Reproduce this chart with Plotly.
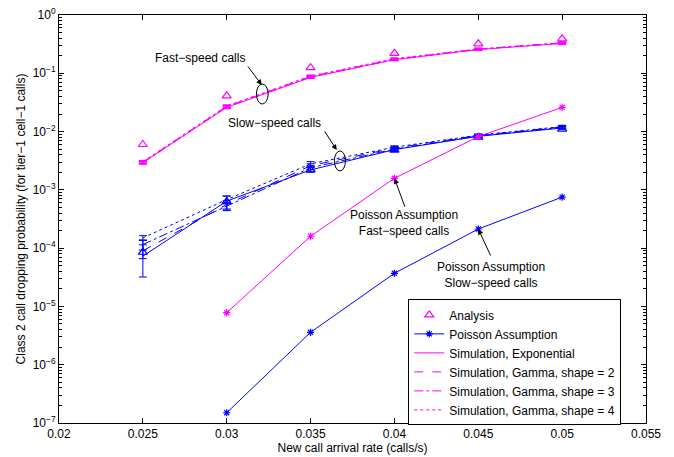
import math
import plotly.graph_objects as go

# New call arrival rate (calls/s)
rate = [0.025, 0.03, 0.035, 0.04, 0.045, 0.05]
rate_poisson = [0.03, 0.035, 0.04, 0.045, 0.05]

# Fast-speed calls: analysis and simulation
fast_analysis = [6.0e-3, 4.1e-2, 1.25e-1, 2.2e-1, 3.2e-1, 3.9e-1]
fast_sim_exp = [2.95e-3, 2.6e-2, 8.5e-2, 1.72e-1, 2.55e-1, 3.25e-1]
fast_sim_g2 = [3.0e-3, 2.7e-2, 8.8e-2, 1.75e-1, 2.6e-1, 3.3e-1]
fast_sim_g3 = [2.9e-3, 2.65e-2, 8.7e-2, 1.70e-1, 2.58e-1, 3.35e-1]
fast_sim_g4 = [3.05e-3, 2.75e-2, 9.0e-2, 1.78e-1, 2.62e-1, 3.3e-1]
fast_sim_err = [1.5e-4, 1.3e-3, 3.5e-3, 6.0e-3, 9.0e-3, 1.2e-2]

# Slow-speed calls: analysis and simulation
slow_analysis = [8.5e-5, 6.3e-4, 2.2e-3, 4.8e-3, 8.0e-3, 1.1e-2]
slow_sim_exp = [7.3e-5, 6.4e-4, 2.2e-3, 4.9e-3, 8.3e-3, 1.15e-2]
slow_sim_g2 = [9.0e-5, 5.6e-4, 2.6e-3, 5.2e-3, 8.6e-3, 1.2e-2]
slow_sim_g3 = [1.15e-4, 5.3e-4, 2.4e-3, 5.0e-3, 8.4e-3, 1.18e-2]
slow_sim_g4 = [1.5e-4, 6.8e-4, 2.8e-3, 5.4e-3, 8.7e-3, 1.22e-2]
slow_err_exp_plus = [6.4e-5, 1.45e-4, 2.5e-4, 4.0e-4, 5.0e-4, 7.0e-4]
slow_err_exp_minus = [4.1e-5, 2.0e-4, 2.0e-4, 3.5e-4, 4.5e-4, 6.0e-4]
slow_err_g2 = [2.4e-5, 9.0e-5, 2.0e-4, 3.0e-4, 4.0e-4, 6.0e-4]
slow_err_g3 = [2.2e-5, 8.0e-5, 2.0e-4, 3.0e-4, 4.0e-4, 6.0e-4]
slow_err_g4 = [1.4e-5, 1.0e-4, 2.5e-4, 3.0e-4, 4.0e-4, 6.0e-4]

# Poisson assumption
poisson_fast = [7.8e-6, 1.6e-4, 1.58e-3, 8.2e-3, 2.6e-2]
poisson_slow = [1.5e-7, 3.6e-6, 3.7e-5, 2.13e-4, 7.5e-4]

y_tick_exps = [-7, -6, -5, -4, -3, -2, -1, 0]
x_ticks = [0.02, 0.025, 0.03, 0.035, 0.04, 0.045, 0.05, 0.055]

MAGENTA = "#FF00FF"
BLUE = "#0000FF"
FONT = "Liberation Sans, Arial, sans-serif"

fig = go.Figure()


def sim_trace(x, y, color, dash, name, rank, show, plus, minus=None):
    err = dict(type="data", array=plus, visible=True, color=color,
               thickness=1, width=4)
    if minus is not None:
        err["arrayminus"] = minus
        err["symmetric"] = False
    return go.Scatter(x=x, y=y, mode="lines", name=name,
                      line=dict(color=color, width=1, dash=dash),
                      error_y=err, showlegend=show, legendrank=rank)


# Fast-speed simulation curves (these carry the legend entries)
fig.add_trace(sim_trace(rate, fast_sim_exp, MAGENTA, "solid",
                        "Simulation, Exponential", 3, True, fast_sim_err))
fig.add_trace(sim_trace(rate, fast_sim_g2, MAGENTA, "dash",
                        "Simulation, Gamma, shape = 2", 4, True, fast_sim_err))
fig.add_trace(sim_trace(rate, fast_sim_g3, MAGENTA, "dashdot",
                        "Simulation, Gamma, shape = 3", 5, True, fast_sim_err))
fig.add_trace(sim_trace(rate, fast_sim_g4, MAGENTA, "dot",
                        "Simulation, Gamma, shape = 4", 6, True, fast_sim_err))

# Slow-speed simulation curves
fig.add_trace(sim_trace(rate, slow_sim_exp, BLUE, "solid", "slow exp", 10, False,
                        slow_err_exp_plus, slow_err_exp_minus))
fig.add_trace(sim_trace(rate, slow_sim_g2, BLUE, "dash", "slow g2", 11, False,
                        slow_err_g2))
fig.add_trace(sim_trace(rate, slow_sim_g3, BLUE, "dashdot", "slow g3", 12, False,
                        slow_err_g3))
fig.add_trace(sim_trace(rate, slow_sim_g4, BLUE, "dot", "slow g4", 13, False,
                        slow_err_g4))

# Analytical results
fig.add_trace(go.Scatter(x=rate, y=fast_analysis, mode="markers", name="Analysis",
                         marker=dict(symbol="triangle-up-open", size=8, color=MAGENTA,
                                     line=dict(width=1.2)),
                         legendrank=1))
fig.add_trace(go.Scatter(x=rate, y=slow_analysis, mode="markers", name="slow analysis",
                         marker=dict(symbol="triangle-up-open", size=8, color=BLUE,
                                     line=dict(width=1.2)),
                         showlegend=False))

# Poisson assumption curves
fig.add_trace(go.Scatter(x=rate_poisson, y=poisson_fast, mode="lines+markers",
                         name="poisson fast", showlegend=False,
                         line=dict(color=MAGENTA, width=1),
                         marker=dict(symbol="asterisk-open", size=6, color=MAGENTA,
                                     line=dict(width=1.2, color=MAGENTA))))
fig.add_trace(go.Scatter(x=rate_poisson, y=poisson_slow, mode="lines+markers",
                         name="Poisson Assumption", legendrank=2,
                         line=dict(color=BLUE, width=1),
                         marker=dict(symbol="asterisk-open", size=6, color=BLUE,
                                     line=dict(width=1.2, color=BLUE))))

txt = dict(font=dict(family=FONT, size=12, color="black"), showarrow=False,
           xref="x", yref="y")
arrow = dict(text="", showarrow=True, arrowhead=2, arrowsize=1.1, arrowwidth=1,
             arrowcolor="black", axref="pixel", ayref="pixel", xref="x", yref="y")

annotations = [
    dict(x=0.02838, y=math.log10(0.183), text="Fast−speed calls", **txt),
    dict(x=0.03209, y=math.log10(0.063), ax=-15, ay=-20, **arrow),
    dict(x=0.03282, y=math.log10(0.01406), text="Slow−speed calls", **txt),
    dict(x=0.03656, y=math.log10(0.00483), ax=-13, ay=-20, **arrow),
    dict(x=0.04057, y=math.log10(2.66e-4),
         text="Poisson Assumption<br>Fast−speed calls", **txt),
    dict(x=0.04, y=math.log10(1.58e-3), ax=11, ay=30, **arrow),
    dict(x=0.04576, y=math.log10(3.52e-5),
         text="Poisson Assumption<br>Slow−speed calls", **txt),
    dict(x=0.045, y=math.log10(2.13e-4), ax=13, ay=28, **arrow),
]

shapes = [
    dict(type="circle", xref="x", yref="y", x0=0.03177, x1=0.03247,
         y0=0.0297, y1=0.0655, line=dict(color="black", width=1)),
    dict(type="circle", xref="x", yref="y", x0=0.03642, x1=0.03708,
         y0=2.11e-3, y1=4.65e-3, line=dict(color="black", width=1)),
]

fig.update_layout(
    width=674, height=457,
    margin=dict(l=59, r=28, t=15, b=34),
    paper_bgcolor="white", plot_bgcolor="white",
    font=dict(family=FONT, size=12, color="black"),
    annotations=annotations, shapes=shapes,
    legend=dict(x=0.595, y=0.303, xanchor="left", yanchor="top",
                bgcolor="white", bordercolor="black", borderwidth=1,
                font=dict(family=FONT, size=12), tracegroupgap=0),
    xaxis=dict(range=[0.02, 0.055], tickvals=x_ticks,
               ticktext=[f"{v:g}" for v in x_ticks],
               ticks="inside", ticklen=5, tickcolor="black",
               showline=True, linecolor="black", linewidth=1, mirror="ticks",
               showgrid=False, zeroline=False, automargin=False,
               title=dict(text="New call arrival rate (calls/s)", standoff=2,
                          font=dict(size=12))),
    yaxis=dict(type="log", range=[-7, 0],
               tickvals=[10 ** e for e in y_tick_exps],
               ticktext=[f"10<sup>{str(e).replace('-', '−')}</sup>" for e in y_tick_exps],
               ticks="inside", ticklen=5, tickcolor="black",
               minor=dict(ticks="inside", ticklen=3, tickcolor="black", dtick="D1"),
               showline=True, linecolor="black", linewidth=1, mirror="ticks",
               showgrid=False, zeroline=False, automargin=False,
               title=dict(text="Class 2 call dropping probability (for tier−1 cell−1 calls)",
                          standoff=4, font=dict(size=12))),
)

fig.write_html("out.html")
